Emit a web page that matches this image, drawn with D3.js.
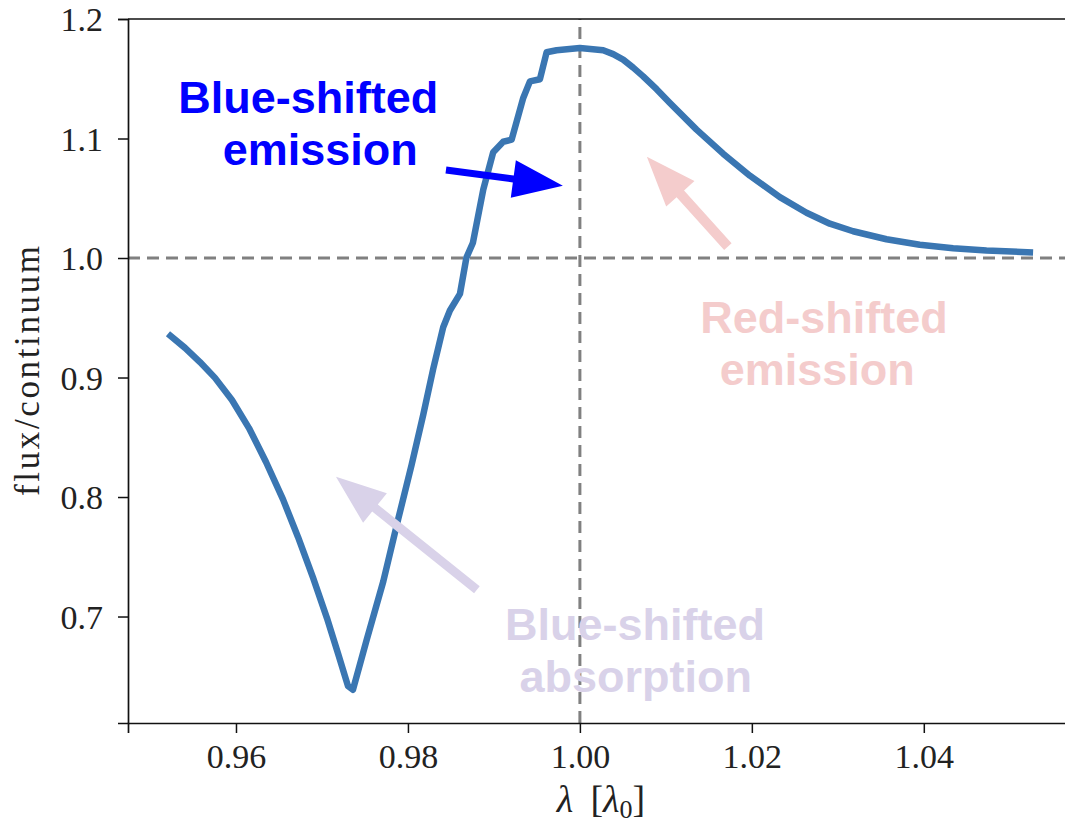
<!DOCTYPE html>
<html>
<head>
<meta charset="utf-8">
<script src="https://cdn.jsdelivr.net/npm/d3@7"></script>
<style>
  body { margin: 0; background: #fff; }
  svg { display: block; }
  .tick text { font-family: "Liberation Serif", "DejaVu Serif", serif; font-size: 34px; fill: #222; }
  .note { font-family: "Liberation Sans", Arial, sans-serif; font-weight: bold; font-size: 45px; }
</style>
</head>
<body>
<div id="chart"></div>
<script>
// line profile: wavelength [lambda_0] and flux/continuum
const wavelength = [
  0.95209, 0.95407, 0.95581, 0.95756, 0.95953, 0.96151, 0.96349, 0.96547, 0.96721, 0.96895,
  0.97058, 0.97186, 0.97302, 0.97360, 0.97520, 0.97713, 0.97887, 0.98043, 0.98178, 0.98294,
  0.98410, 0.98488, 0.98605, 0.98680, 0.98756, 0.98876, 0.98992, 0.99108, 0.99206, 0.99341,
  0.99419, 0.99535, 0.99613, 0.99729, 1.00000, 1.00271, 1.00387, 1.00503, 1.00620, 1.00736,
  1.00892, 1.01047, 1.01357, 1.01666, 1.01977, 1.02326, 1.02636, 1.02907, 1.03178, 1.03566,
  1.03953, 1.04341, 1.04729, 1.05271
];
const flux = [
  0.9366, 0.9248, 0.9129, 0.8997, 0.8812, 0.8577, 0.8293, 0.7980, 0.7666, 0.7327,
  0.6987, 0.6692, 0.6420, 0.6387, 0.6805, 0.7293, 0.7816, 0.8270, 0.8689, 0.9072,
  0.9421, 0.9561, 0.9700, 1.0003, 1.0128, 1.0572, 1.0886, 1.0973, 1.0990, 1.1339,
  1.1478, 1.1496, 1.1722, 1.1738, 1.1758, 1.1738, 1.1706, 1.1660, 1.1593, 1.1520,
  1.1413, 1.1297, 1.1074, 1.0873, 1.0689, 1.0509, 1.0379, 1.0287, 1.0224, 1.0157,
  1.0111, 1.0082, 1.0063, 1.0047
];

const xTicks = [0.96, 0.98, 1.00, 1.02, 1.04];
const yTicks = [0.7, 0.8, 0.9, 1.0, 1.1, 1.2];

// reference lines (rest wavelength, continuum level)
const restWavelength = 1.0;
const continuum = 1.0;

// annotations: text lines, centre of each line, first baseline (data units)
const noteText = [["Blue-shifted", "emission"], ["Red-shifted", "emission"], ["Blue-shifted", "absorption"]];
const noteColor = ["#0000ff", "#f4cccc", "#d9d2e9"];
const noteX = [[0.9684, 0.9698], [1.0284, 1.0276], [1.0064, 1.0065]];
const noteY = [1.1216, 0.9375, 0.6805];
// arrows: tail -> tip
const arrowFrom = [[0.98442, 1.0737], [1.01721, 1.0095], [0.98802, 0.7224]];
const arrowTo = [[0.99802, 1.0605], [1.00779, 1.0848], [0.97163, 0.8170]];

const width = 1065, height = 825;
const margin = {top: 19, left: 128, bottom: 102};

let svg = d3.select("#chart").append("svg")
    .attr("width", width)
    .attr("height", height);

let x = d3.scaleLinear()
    .domain([0.94744, 1.0584])
    .range([margin.left, 1082]);

let y = d3.scaleLinear()
    .domain([0.6109, 1.2])
    .range([height - margin.bottom, margin.top]);

// dashed reference lines
svg.append("line")
    .attr("x1", x(restWavelength)).attr("x2", x(restWavelength))
    .attr("y1", y.range()[0]).attr("y2", y.range()[1])
    .attr("stroke", "#808080").attr("stroke-width", 3)
    .attr("stroke-dasharray", "12,7");
svg.append("line")
    .attr("x1", x.range()[0]).attr("x2", x.range()[1])
    .attr("y1", y(continuum)).attr("y2", y(continuum))
    .attr("stroke", "#808080").attr("stroke-width", 3)
    .attr("stroke-dasharray", "12,7");

// the profile
let line = d3.line()
    .x((d, i) => x(wavelength[i]))
    .y((d, i) => y(flux[i]));

svg.append("path")
    .attr("d", line(flux))
    .attr("fill", "none")
    .attr("stroke", "#3a76b2")
    .attr("stroke-width", 6.5)
    .attr("stroke-linejoin", "round")
    .attr("stroke-linecap", "butt");

// axes
let xAxis = svg.append("g")
    .attr("transform", `translate(0, ${y.range()[0]})`)
    .call(d3.axisBottom(x).tickValues(xTicks).tickFormat(d3.format(".2f")).tickSize(10).tickPadding(11));
let yAxis = svg.append("g")
    .attr("transform", `translate(${margin.left}, 0)`)
    .call(d3.axisLeft(y).tickValues(yTicks).tickFormat(d3.format(".1f")).tickSize(10).tickPadding(15));

[xAxis, yAxis].forEach(g => {
    g.select(".domain").attr("stroke", "#111").attr("stroke-width", 1.7);
    g.selectAll(".tick line").attr("stroke", "#111").attr("stroke-width", 1.5);
});
yAxis.selectAll(".tick text").attr("dy", "0.34em");

// top spine (right one falls outside the picture)
svg.append("line")
    .attr("x1", x.range()[0]).attr("x2", x.range()[1])
    .attr("y1", y.range()[1]).attr("y2", y.range()[1])
    .attr("stroke", "#111").attr("stroke-width", 1.7);

// axis labels
let xLabel = svg.append("text")
    .attr("x", 601)
    .attr("y", 812)
    .attr("text-anchor", "middle")
    .style("font-family", "'Liberation Serif', serif")
    .style("font-size", "38px")
    .attr("fill", "#222");
xLabel.append("tspan").style("font-style", "italic").text("λ");
xLabel.append("tspan").text("\u2009 [");
xLabel.append("tspan").style("font-style", "italic").text("λ");
xLabel.append("tspan").attr("font-size", "26px").attr("dy", 6).text("0");
xLabel.append("tspan").attr("dy", -6).text("]");

svg.append("text")
    .attr("transform", `translate(39, ${(y.range()[0] + y.range()[1]) / 2}) rotate(-90)`)
    .attr("text-anchor", "middle")
    .attr("textLength", 250)
    .attr("lengthAdjust", "spacing")
    .style("font-family", "'Liberation Serif', serif")
    .style("font-size", "35px")
    .attr("fill", "#222")
    .text("flux/continuum");

// arrows as filled polygons
function arrowPath(x0, y0, x1, y1, shaft, headLen, headW) {
    let dx = x1 - x0, dy = y1 - y0;
    let len = Math.sqrt(dx * dx + dy * dy);
    let ux = dx / len, uy = dy / len, nx = -uy, ny = ux;
    let bx = x1 - ux * headLen, by = y1 - uy * headLen;
    let p = [
        [x0 + nx * shaft / 2, y0 + ny * shaft / 2],
        [bx + nx * shaft / 2, by + ny * shaft / 2],
        [bx + nx * headW / 2, by + ny * headW / 2],
        [x1, y1],
        [bx - nx * headW / 2, by - ny * headW / 2],
        [bx - nx * shaft / 2, by - ny * shaft / 2],
        [x0 - nx * shaft / 2, y0 - ny * shaft / 2]
    ];
    return "M" + p.map(q => q.join(",")).join("L") + "Z";
}

const shafts = [7, 10, 9];
arrowFrom.forEach((a, i) => {
    svg.append("path")
        .attr("d", arrowPath(x(a[0]), y(a[1]), x(arrowTo[i][0]), y(arrowTo[i][1]), shafts[i], 50, 38))
        .attr("fill", noteColor[i]);
});

// annotation text
noteText.forEach((lines, i) => {
    let t = svg.append("text")
        .attr("class", "note")
        .attr("text-anchor", "middle")
        .attr("fill", noteColor[i]);
    lines.forEach((s, j) => {
        t.append("tspan")
            .attr("x", x(noteX[i][j]))
            .attr("y", y(noteY[i]) + j * 52)
            .text(s);
    });
});
</script>
</body>
</html>
